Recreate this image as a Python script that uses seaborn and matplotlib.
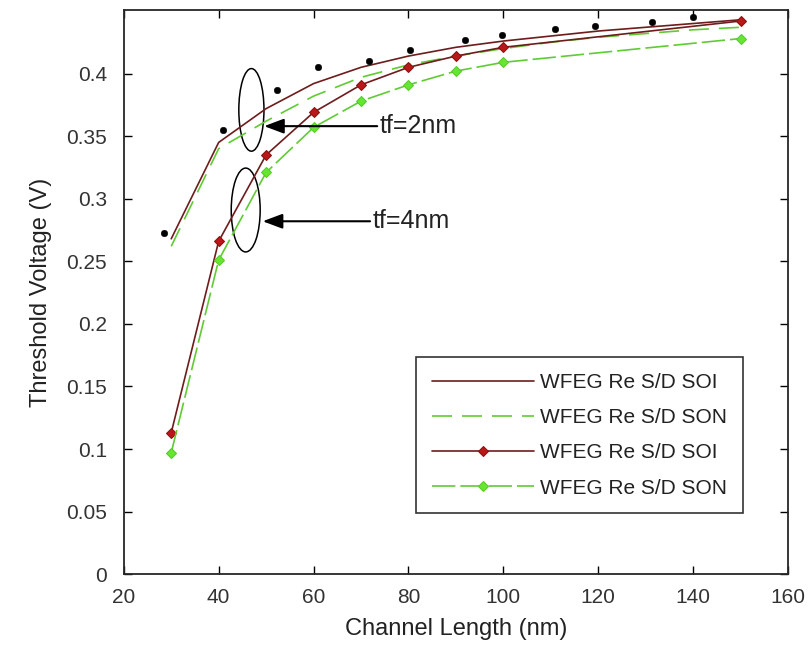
import numpy as np
import pandas as pd
import matplotlib
matplotlib.use("Agg")
import matplotlib.pyplot as plt
from matplotlib.patches import Ellipse
import seaborn as sns

# tf = 2nm curves (no markers)
len_line = [30, 40, 50, 60, 70, 80, 90, 100, 110, 120, 130, 140, 150]
vt_soi_2nm = [0.268, 0.345, 0.372, 0.392, 0.405, 0.414, 0.421, 0.426, 0.430, 0.434, 0.437, 0.440, 0.443]
vt_son_2nm = [0.262, 0.340, 0.362, 0.382, 0.397, 0.407, 0.414, 0.420, 0.425, 0.429, 0.432, 0.435, 0.437]

# tf = 4nm curves (diamond markers)
len_mark = [30, 40, 50, 60, 70, 80, 90, 100, 150]
vt_soi_4nm = [0.113, 0.266, 0.335, 0.369, 0.391, 0.405, 0.414, 0.421, 0.442]
vt_son_4nm = [0.097, 0.251, 0.321, 0.357, 0.378, 0.391, 0.402, 0.409, 0.428]

# black dots (simulation points)
len_dots = [28.4, 40.9, 52.2, 61, 71.7, 80.3, 92, 99.8, 111, 119.4, 131.4, 140]
vt_dots = [0.273, 0.355, 0.387, 0.405, 0.410, 0.419, 0.427, 0.431, 0.436, 0.438, 0.441, 0.445]

legend_labels = ["WFEG Re S/D SOI", "WFEG Re S/D SON", "WFEG Re S/D SOI", "WFEG Re S/D SON"]

sns.set_style("ticks")
plt.rcParams["font.family"] = ["Liberation Sans", "DejaVu Sans"]
plt.rcParams["text.color"] = "#222222"
plt.rcParams["axes.labelcolor"] = "#222222"
plt.rcParams["xtick.color"] = "black"
plt.rcParams["ytick.color"] = "black"
plt.rcParams["xtick.labelcolor"] = "#333333"
plt.rcParams["ytick.labelcolor"] = "#333333"

fig = plt.figure(figsize=(8.09, 6.51), dpi=100)
ax = fig.add_axes([0.153, 0.118, 0.821, 0.867])

soi_line = "#6e1c1c"
son_line = "#5fcc33"

sns.lineplot(x=len_line, y=vt_soi_2nm, ax=ax, color=soi_line, lw=1.2, label=legend_labels[0])
sns.lineplot(x=len_line, y=vt_son_2nm, ax=ax, color=son_line, lw=1.2, label=legend_labels[1])
ax.lines[-1].set_dashes((12, 6))
sns.lineplot(x=len_mark, y=vt_soi_4nm, ax=ax, color=soi_line, lw=1.2, marker="D", markersize=5,
             markerfacecolor="#b81818", markeredgecolor="#8a1010", label=legend_labels[2])
sns.lineplot(x=len_mark, y=vt_son_4nm, ax=ax, color=son_line, lw=1.2, marker="D", markersize=5,
             markerfacecolor="#66e633", markeredgecolor="#55cc22", label=legend_labels[3])
ax.lines[-1].set_dashes((14, 3))
sns.scatterplot(x=len_dots, y=vt_dots, ax=ax, color="black", s=22, edgecolor="black", zorder=5)

# ellipses and arrows
ax.add_patch(Ellipse((46.9, 0.371), 5.3, 0.066, fill=False, ec="black", lw=1.1))
ax.add_patch(Ellipse((45.7, 0.291), 6.1, 0.067, fill=False, ec="black", lw=1.1))
arrow = dict(arrowstyle="-|>,head_length=1.2,head_width=0.45", color="black", lw=1.5)
ax.annotate("", xy=(49.0, 0.358), xytext=(74.0, 0.358), arrowprops=arrow)
ax.annotate("", xy=(48.7, 0.282), xytext=(72.5, 0.282), arrowprops=arrow)
ax.text(74.0, 0.358, "tf=2nm", fontsize=18, va="center", ha="left")
ax.text(72.5, 0.282, "tf=4nm", fontsize=18, va="center", ha="left")

ax.set_xlim(20, 160)
ax.set_ylim(0, 0.451)
ax.set_xticks(np.arange(20, 161, 20))
ax.set_yticks(np.arange(0, 0.41, 0.05))
ax.set_yticklabels(["0", "0.05", "0.1", "0.15", "0.2", "0.25", "0.3", "0.35", "0.4"])
ax.tick_params(direction="in", top=True, right=True, labelsize=15, length=6, width=1)
ax.tick_params(axis="x", pad=10)
ax.tick_params(axis="y", pad=12)
for s in ax.spines.values():
    s.set_linewidth(1.3)
    s.set_visible(True)

ax.set_xlabel("Channel Length (nm)", fontsize=17, labelpad=8)
ax.set_ylabel("Threshold Voltage (V)", fontsize=17, labelpad=10)

handles = ax.lines[:4]
ax.legend(handles=handles, labels=legend_labels, loc="lower right", bbox_to_anchor=(0.932, 0.108),
          fontsize=15, frameon=True, fancybox=False, edgecolor="black", handlelength=4.9,
          borderpad=0.75, labelspacing=0.78, handletextpad=0.3, borderaxespad=0).get_frame().set_linewidth(1.2)

plt.savefig("out.png", dpi=100)
